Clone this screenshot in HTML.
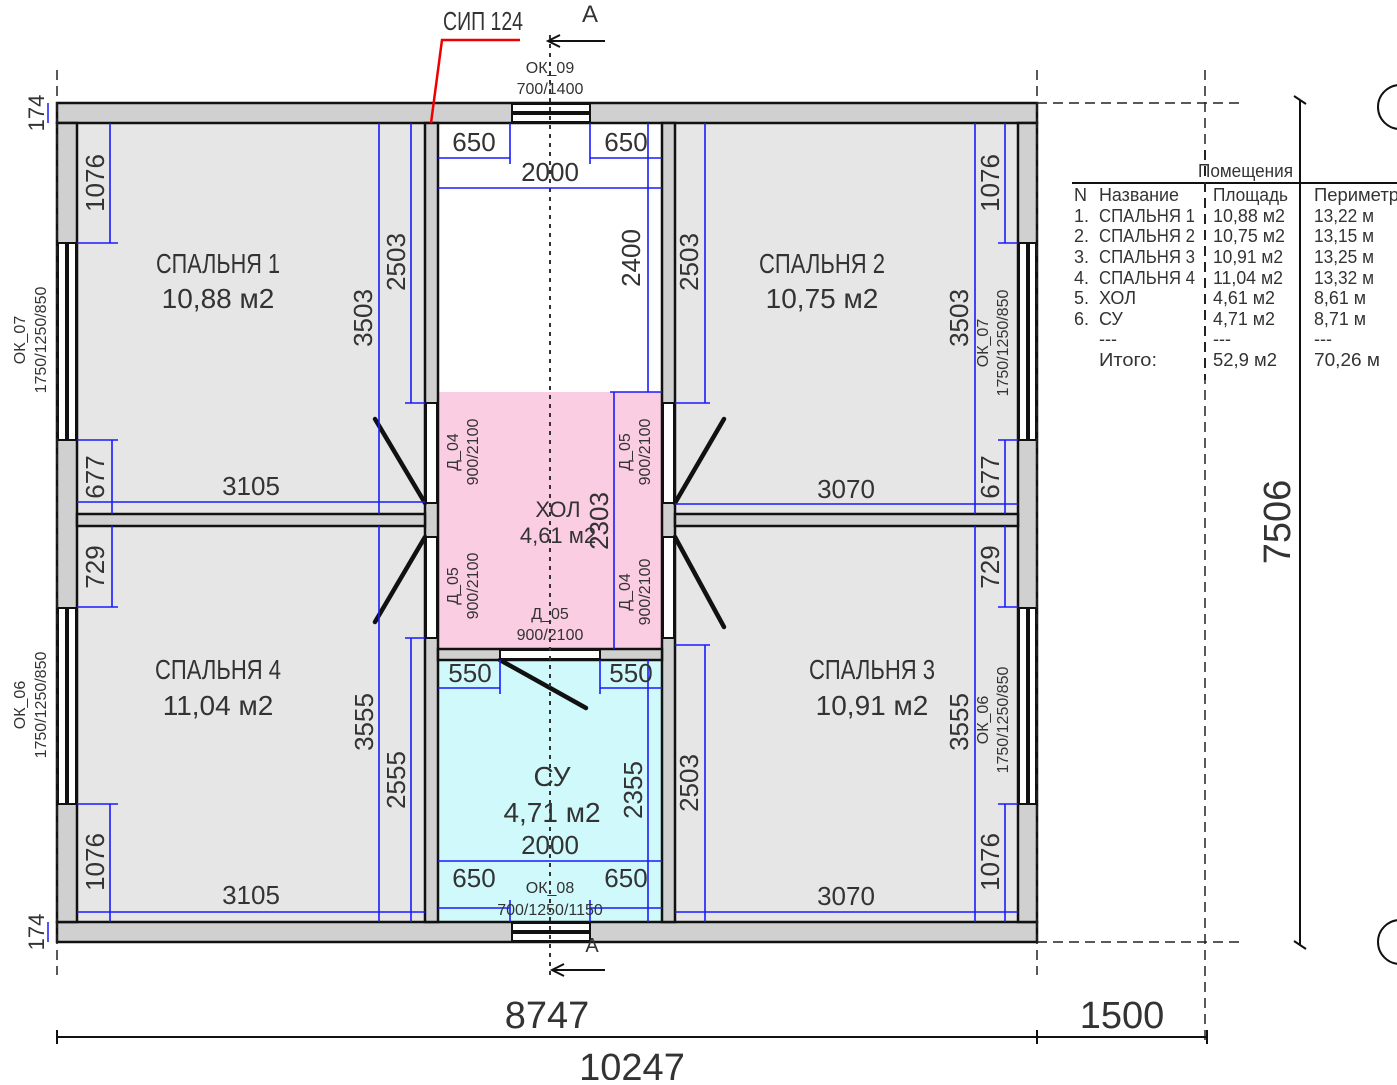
<!DOCTYPE html>
<html><head><meta charset="utf-8"><style>
html,body{margin:0;padding:0;background:#fff}
svg text{font-family:"Liberation Sans Narrow","Liberation Sans","DejaVu Sans Condensed",sans-serif;fill:#333}
</style></head><body>
<svg width="1397" height="1080" viewBox="0 0 1397 1080" xmlns="http://www.w3.org/2000/svg">
<rect x="77" y="123" width="348" height="391" fill="#e6e6e6"/>
<rect x="77" y="526" width="348" height="396" fill="#e6e6e6"/>
<rect x="675" y="123" width="343" height="391" fill="#e6e6e6"/>
<rect x="675" y="526" width="343" height="396" fill="#e6e6e6"/>
<rect x="438" y="123" width="224" height="269" fill="#fff"/>
<rect x="438" y="392" width="224" height="257" fill="#fbcde3"/>
<rect x="438" y="660" width="224" height="262" fill="#cff9fb"/>
<g fill="#d0d0d0" stroke="#111" stroke-width="2.5">
<rect x="57" y="103" width="980" height="20"/>
<rect x="57" y="922" width="980" height="20"/>
<rect x="57" y="123" width="20" height="799"/>
<rect x="1018" y="123" width="19" height="799"/>
<rect x="425" y="123" width="13" height="799"/>
<rect x="662" y="123" width="13" height="799"/>
<rect x="77" y="514" width="348" height="12"/>
<rect x="675" y="514" width="343" height="12"/>
<rect x="438" y="649" width="224" height="11"/>
</g>
<g fill="#fff" stroke="#111" stroke-width="2">
<rect x="58" y="243" width="18" height="197"/><rect x="58" y="608" width="18" height="196"/>
<rect x="1019" y="243" width="17" height="197"/><rect x="1019" y="608" width="17" height="196"/>
<rect x="512" y="104" width="78" height="18"/><rect x="512" y="923" width="78" height="18"/>
</g>
<g stroke="#111" stroke-width="4">
<line x1="67" y1="243" x2="67" y2="440"/><line x1="67" y1="608" x2="67" y2="804"/>
<line x1="1028" y1="243" x2="1028" y2="440"/><line x1="1028" y1="608" x2="1028" y2="804"/>
<line x1="512" y1="113" x2="590" y2="113"/><line x1="512" y1="932" x2="590" y2="932"/>
</g>
<g fill="#fff" stroke="#111" stroke-width="2">
<rect x="426" y="403" width="11" height="100"/><rect x="426" y="537" width="11" height="101"/>
<rect x="663" y="403" width="11" height="100"/><rect x="663" y="537" width="11" height="101"/>
<rect x="500" y="650" width="100" height="9"/>
</g>
<g stroke="#111" stroke-width="4.5" stroke-linecap="round">
<line x1="425" y1="503" x2="375" y2="419"/><line x1="425" y1="537" x2="375" y2="622"/>
<line x1="675" y1="503" x2="724" y2="419"/><line x1="675" y1="537" x2="724" y2="627"/>
<line x1="500" y1="660" x2="586" y2="708"/>
</g>
<g stroke="#222" stroke-width="1.5" stroke-dasharray="10,6" fill="none">
<line x1="57" y1="70" x2="57" y2="975"/><line x1="1037" y1="70" x2="1037" y2="975"/>
<line x1="1205" y1="70" x2="1205" y2="1040"/>
<line x1="1037" y1="103" x2="1240" y2="103"/><line x1="1037" y1="942" x2="1240" y2="942"/>
</g>
<line x1="550" y1="35" x2="550" y2="975" stroke="#333" stroke-width="2" stroke-dasharray="4,5"/>
<g stroke="#111" stroke-width="2" fill="none">
<line x1="548" y1="41" x2="605" y2="41"/><path d="M560 35 L548 41 L560 47"/>
<line x1="552" y1="970" x2="605" y2="970"/><path d="M564 964 L552 970 L564 976"/>
</g>
<text x="590" y="22" font-size="24" text-anchor="middle">А</text>
<text x="592" y="952" font-size="20" text-anchor="middle">А</text>
<polyline points="431,123 442,40 520,40" fill="none" stroke="#e00" stroke-width="2.5"/>
<text x="483" y="30" font-size="26" text-anchor="middle" textLength="80" lengthAdjust="spacingAndGlyphs">СИП 124</text>
<g stroke="#111" stroke-width="2">
<line x1="1300" y1="100" x2="1300" y2="945"/><line x1="1294" y1="96" x2="1306" y2="104"/><line x1="1294" y1="941" x2="1306" y2="949"/>
<line x1="1072" y1="183" x2="1397" y2="183"/>
<line x1="57" y1="1037" x2="1207" y2="1037"/>
<line x1="57" y1="1030" x2="57" y2="1044"/><line x1="1037" y1="1030" x2="1037" y2="1044"/><line x1="1207" y1="1030" x2="1207" y2="1044"/>
</g>
<line x1="1205" y1="150" x2="1205" y2="380" stroke="#222" stroke-width="2" stroke-dasharray="10,6"/>
<circle cx="1400" cy="107" r="22" fill="none" stroke="#111" stroke-width="2"/>
<circle cx="1400" cy="942" r="22" fill="none" stroke="#111" stroke-width="2"/>
<text transform="translate(1290,522) rotate(-90)" font-size="38" text-anchor="middle">7506</text>
<text x="547" y="1028" font-size="38" text-anchor="middle">8747</text>
<text x="1122" y="1028" font-size="38" text-anchor="middle">1500</text>
<text x="632" y="1080" font-size="38" text-anchor="middle">10247</text>
<g stroke="#1a1aff" stroke-width="1.5"><line x1="48" y1="103" x2="48" y2="123"/><line x1="48" y1="922" x2="48" y2="942"/></g>
<text transform="translate(44,113) rotate(-90)" font-size="22" text-anchor="middle">174</text>
<text transform="translate(44,932) rotate(-90)" font-size="22" text-anchor="middle">174</text>
<g stroke="#1a1aff" stroke-width="1.6" fill="none">
<line x1="110" y1="123" x2="110" y2="243"/><line x1="77" y1="243" x2="118" y2="243"/>
<line x1="112" y1="440" x2="112" y2="514"/><line x1="77" y1="440" x2="118" y2="440"/>
<line x1="77" y1="502" x2="425" y2="502"/>
<line x1="379" y1="123" x2="379" y2="514"/>
<line x1="411" y1="123" x2="411" y2="403"/><line x1="405" y1="403" x2="425" y2="403"/>
<line x1="112" y1="526" x2="112" y2="607"/><line x1="77" y1="607" x2="118" y2="607"/>
<line x1="110" y1="804" x2="110" y2="922"/><line x1="77" y1="804" x2="118" y2="804"/>
<line x1="77" y1="912" x2="425" y2="912"/>
<line x1="379" y1="526" x2="379" y2="922"/>
<line x1="411" y1="638" x2="411" y2="922"/><line x1="405" y1="638" x2="425" y2="638"/>
<line x1="705" y1="123" x2="705" y2="403"/><line x1="675" y1="403" x2="710" y2="403"/>
<line x1="975" y1="123" x2="975" y2="514"/>
<line x1="1005" y1="123" x2="1005" y2="243"/><line x1="998" y1="243" x2="1018" y2="243"/>
<line x1="1005" y1="440" x2="1005" y2="514"/><line x1="998" y1="440" x2="1018" y2="440"/>
<line x1="675" y1="504" x2="1018" y2="504"/>
<line x1="705" y1="645" x2="705" y2="922"/><line x1="675" y1="645" x2="710" y2="645"/>
<line x1="975" y1="526" x2="975" y2="922"/>
<line x1="1005" y1="526" x2="1005" y2="607"/><line x1="998" y1="607" x2="1018" y2="607"/>
<line x1="1005" y1="804" x2="1005" y2="922"/><line x1="998" y1="804" x2="1018" y2="804"/>
<line x1="675" y1="912" x2="1018" y2="912"/>
<line x1="438" y1="158" x2="510" y2="158"/><line x1="510" y1="123" x2="510" y2="164"/>
<line x1="590" y1="158" x2="662" y2="158"/><line x1="590" y1="123" x2="590" y2="164"/>
<line x1="438" y1="188" x2="662" y2="188"/>
<line x1="648" y1="123" x2="648" y2="392"/><line x1="640" y1="392" x2="662" y2="392"/>
<line x1="614" y1="392" x2="614" y2="649"/><line x1="610" y1="392" x2="640" y2="392"/>
<line x1="438" y1="688" x2="500" y2="688"/><line x1="500" y1="660" x2="500" y2="694"/>
<line x1="600" y1="688" x2="662" y2="688"/><line x1="600" y1="660" x2="600" y2="694"/>
<line x1="438" y1="861" x2="662" y2="861"/>
<line x1="438" y1="908" x2="510" y2="908"/><line x1="510" y1="900" x2="510" y2="922"/>
<line x1="590" y1="908" x2="662" y2="908"/><line x1="590" y1="900" x2="590" y2="922"/>
<line x1="648" y1="660" x2="648" y2="922"/>
</g>
<g font-size="26" text-anchor="middle">
<text transform="translate(104,183) rotate(-90)">1076</text>
<text transform="translate(104,477) rotate(-90)">677</text>
<text x="251" y="495">3105</text>
<text transform="translate(372,318) rotate(-90)">3503</text>
<text transform="translate(405,262) rotate(-90)">2503</text>
<text transform="translate(104,567) rotate(-90)">729</text>
<text transform="translate(104,862) rotate(-90)">1076</text>
<text x="251" y="904">3105</text>
<text transform="translate(373,722) rotate(-90)">3555</text>
<text transform="translate(405,780) rotate(-90)">2555</text>
<text transform="translate(698,262) rotate(-90)">2503</text>
<text transform="translate(968,318) rotate(-90)">3503</text>
<text transform="translate(999,183) rotate(-90)">1076</text>
<text transform="translate(999,477) rotate(-90)">677</text>
<text x="846" y="498">3070</text>
<text transform="translate(698,783) rotate(-90)">2503</text>
<text transform="translate(968,722) rotate(-90)">3555</text>
<text transform="translate(999,567) rotate(-90)">729</text>
<text transform="translate(999,862) rotate(-90)">1076</text>
<text x="846" y="905">3070</text>
<text x="474" y="151">650</text><text x="626" y="151">650</text>
<text x="550" y="181">2000</text>
<text transform="translate(640,258) rotate(-90)">2400</text>
<text transform="translate(608,521) rotate(-90)">2303</text>
<text x="470" y="682">550</text><text x="631" y="682">550</text>
<text x="550" y="854">2000</text>
<text x="474" y="887">650</text><text x="626" y="887">650</text>
<text transform="translate(642,790) rotate(-90)">2355</text>
</g>
<g font-size="28" text-anchor="middle">
<text x="218" y="273" textLength="124" lengthAdjust="spacingAndGlyphs">СПАЛЬНЯ 1</text><text x="218" y="308">10,88 м2</text>
<text x="822" y="273" textLength="126" lengthAdjust="spacingAndGlyphs">СПАЛЬНЯ 2</text><text x="822" y="308">10,75 м2</text>
<text x="218" y="679" textLength="126" lengthAdjust="spacingAndGlyphs">СПАЛЬНЯ 4</text><text x="218" y="715">11,04 м2</text>
<text x="872" y="679" textLength="126" lengthAdjust="spacingAndGlyphs">СПАЛЬНЯ 3</text><text x="872" y="715">10,91 м2</text>
<text x="558" y="517" font-size="22">ХОЛ</text><text x="558" y="543" font-size="22">4,61 м2</text>
<text x="552" y="786">СУ</text><text x="552" y="822">4,71 м2</text>
</g>
<g font-size="16" text-anchor="middle" fill="#444">
<text x="550" y="73">ОК_09</text><text x="550" y="94">700/1400</text>
<text x="550" y="893">ОК_08</text><text x="550" y="915">700/1250/1150</text>
<text x="550" y="619">Д_05</text><text x="550" y="640">900/2100</text>
<text transform="translate(458,452) rotate(-90)">Д_04</text><text transform="translate(478,452) rotate(-90)">900/2100</text>
<text transform="translate(458,586) rotate(-90)">Д_05</text><text transform="translate(478,586) rotate(-90)">900/2100</text>
<text transform="translate(630,452) rotate(-90)">Д_05</text><text transform="translate(650,452) rotate(-90)">900/2100</text>
<text transform="translate(630,592) rotate(-90)">Д_04</text><text transform="translate(650,592) rotate(-90)">900/2100</text>
<text transform="translate(25,340) rotate(-90)">ОК_07</text><text transform="translate(46,340) rotate(-90)">1750/1250/850</text>
<text transform="translate(25,705) rotate(-90)">ОК_06</text><text transform="translate(46,705) rotate(-90)">1750/1250/850</text>
<text transform="translate(988,343) rotate(-90)">ОК_07</text><text transform="translate(1008,343) rotate(-90)">1750/1250/850</text>
<text transform="translate(988,720) rotate(-90)">ОК_06</text><text transform="translate(1008,720) rotate(-90)">1750/1250/850</text>
</g>
<g font-size="18" fill="#333" lengthAdjust="spacingAndGlyphs">
<text x="1198" y="177" textLength="95" lengthAdjust="spacingAndGlyphs">Помещения</text>
<text x="1074" y="201">N</text><text x="1099" y="201" textLength="80" lengthAdjust="spacingAndGlyphs">Название</text><text x="1213" y="201" textLength="75" lengthAdjust="spacingAndGlyphs">Площадь</text><text x="1314" y="201" textLength="85" lengthAdjust="spacingAndGlyphs">Периметр</text>
<text x="1074" y="222">1.</text><text x="1099" y="222" textLength="96" lengthAdjust="spacingAndGlyphs">СПАЛЬНЯ 1</text><text x="1213" y="222" textLength="72" lengthAdjust="spacingAndGlyphs">10,88 м2</text><text x="1314" y="222" textLength="60" lengthAdjust="spacingAndGlyphs">13,22 м</text>
<text x="1074" y="242">2.</text><text x="1099" y="242" textLength="96" lengthAdjust="spacingAndGlyphs">СПАЛЬНЯ 2</text><text x="1213" y="242" textLength="72" lengthAdjust="spacingAndGlyphs">10,75 м2</text><text x="1314" y="242" textLength="60" lengthAdjust="spacingAndGlyphs">13,15 м</text>
<text x="1074" y="263">3.</text><text x="1099" y="263" textLength="96" lengthAdjust="spacingAndGlyphs">СПАЛЬНЯ 3</text><text x="1213" y="263" textLength="70" lengthAdjust="spacingAndGlyphs">10,91 м2</text><text x="1314" y="263" textLength="60" lengthAdjust="spacingAndGlyphs">13,25 м</text>
<text x="1074" y="284">4.</text><text x="1099" y="284" textLength="96" lengthAdjust="spacingAndGlyphs">СПАЛЬНЯ 4</text><text x="1213" y="284" textLength="70" lengthAdjust="spacingAndGlyphs">11,04 м2</text><text x="1314" y="284" textLength="60" lengthAdjust="spacingAndGlyphs">13,32 м</text>
<text x="1074" y="304">5.</text><text x="1099" y="304">ХОЛ</text><text x="1213" y="304" textLength="62" lengthAdjust="spacingAndGlyphs">4,61 м2</text><text x="1314" y="304" textLength="52" lengthAdjust="spacingAndGlyphs">8,61 м</text>
<text x="1074" y="325">6.</text><text x="1099" y="325">СУ</text><text x="1213" y="325" textLength="62" lengthAdjust="spacingAndGlyphs">4,71 м2</text><text x="1314" y="325" textLength="52" lengthAdjust="spacingAndGlyphs">8,71 м</text>
<text x="1099" y="345">---</text><text x="1213" y="345">---</text><text x="1314" y="345">---</text>
<text x="1099" y="366" textLength="58" lengthAdjust="spacingAndGlyphs">Итого:</text><text x="1213" y="366" textLength="64" lengthAdjust="spacingAndGlyphs">52,9 м2</text><text x="1314" y="366" textLength="66" lengthAdjust="spacingAndGlyphs">70,26 м</text>
</g>
</svg>
</body></html>
